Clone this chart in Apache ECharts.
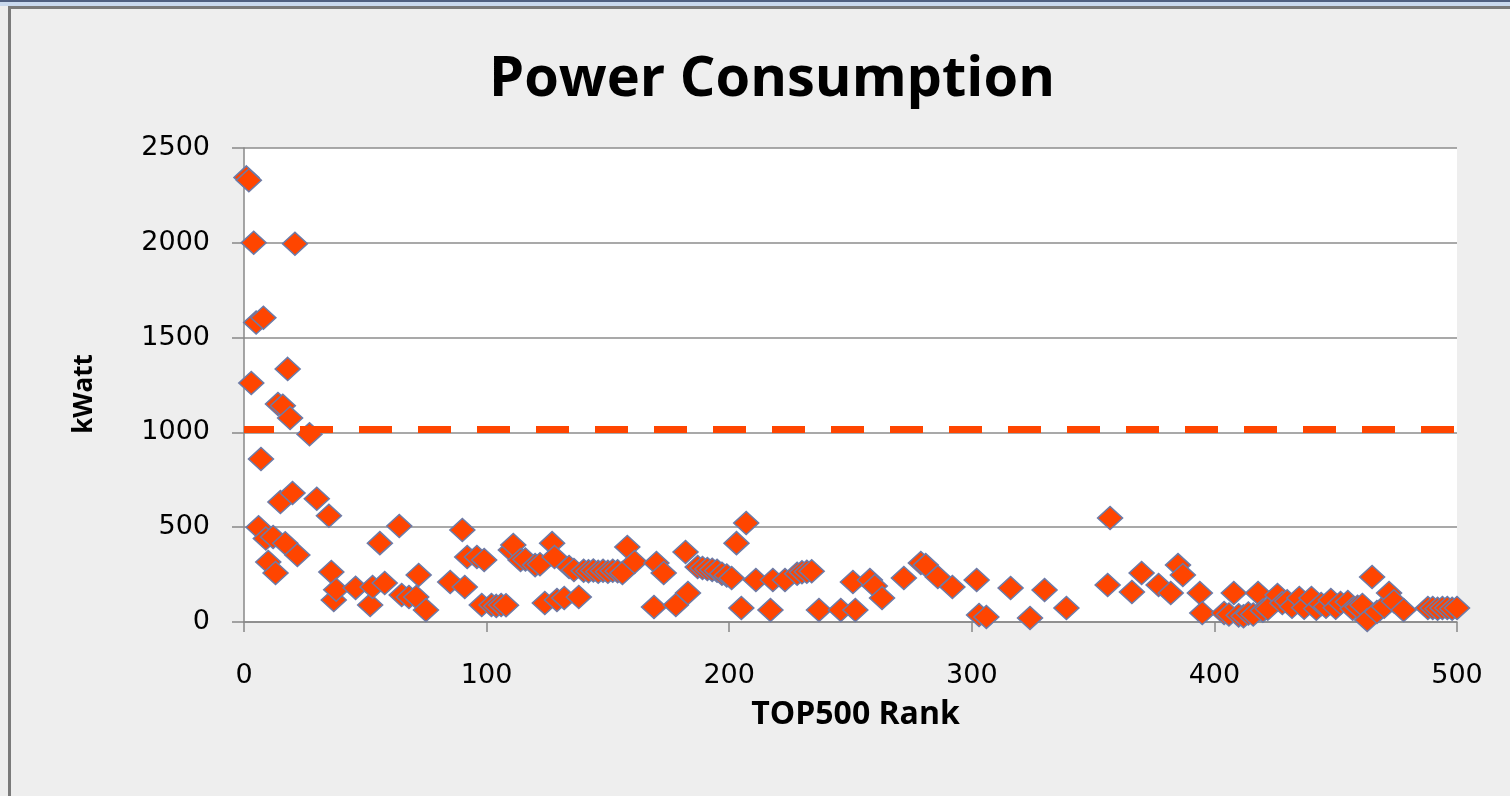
<!DOCTYPE html>
<html>
<head>
<meta charset="utf-8">
<script src="https://cdn.jsdelivr.net/npm/echarts@6/dist/echarts.min.js"></script>
<style>
html, body {
  margin: 0;
  padding: 0;
  background: #eeeeee;
}
#main {
  width: 1510px;
  height: 796px;
}
</style>
</head>
<body>
<div id="main"></div>
<script>
// TOP500 rank and power (kW)
const ranks = [
  1, 2, 3, 4, 5, 6, 7, 8, 9, 10, 12, 13, 14, 15, 16, 17, 18, 19, 20, 21,
  22, 27, 30, 35, 36, 37, 38, 46, 52, 53, 56, 58, 64, 65, 68, 71, 72, 75, 85, 90,
  91, 92, 96, 98, 99, 102, 104, 106, 108, 110, 111, 114, 116, 120, 122, 124, 127, 128, 129, 132,
  134, 136, 138, 140, 142, 144, 146, 148, 150, 152, 154, 156, 158, 161, 169, 170, 173, 178, 182, 183,
  187, 189, 191, 193, 195, 197, 199, 201, 203, 205, 207, 211, 217, 218, 223, 228, 230, 232, 234, 237,
  246, 251, 252, 258, 260, 263, 272, 279, 281, 286, 292, 302, 303, 306, 316, 324, 330, 339, 356, 357,
  366, 370, 377, 382, 385, 387, 394, 395, 404, 406, 408, 410, 412, 414, 416, 418, 420, 422, 426, 428,
  430, 432, 435, 437, 440, 442, 444, 446, 448, 450, 452, 455, 457, 459, 461, 463, 465, 467, 470, 472,
  474, 478, 488, 490, 492, 494, 496, 498, 500
];
const kw = [
  2345, 2330, 1260, 2000, 1580, 500, 860, 1605, 440, 316, 448, 258, 1150, 633, 1140, 415, 1335, 1076, 680, 1995,
  353, 990, 650, 560, 264, 116, 170, 180, 90, 185, 416, 206, 506, 142, 132, 132, 248, 63, 211, 485,
  185, 343, 343, 90, 327, 90, 85, 90, 88, 380, 406, 327, 330, 300, 305, 100, 416, 343, 116, 127,
  290, 274, 132, 270, 268, 272, 265, 270, 265, 270, 268, 258, 396, 316, 79, 311, 258, 90, 369, 153,
  290, 285, 280, 275, 270, 255, 245, 232, 416, 74, 522, 222, 63, 222, 222, 255, 262, 265, 268, 63,
  63, 211, 63, 222, 190, 127, 232, 311, 300, 237, 185, 222, 37, 26, 179, 21, 169, 74, 195, 548,
  158, 258, 195, 153, 300, 248, 153, 47, 47, 40, 153, 35, 30, 45, 40, 153, 60, 70, 142, 100,
  110, 80, 127, 75, 127, 70, 95, 80, 116, 75, 100, 105, 70, 80, 90, 10, 237, 53, 80, 153,
  110, 63, 74, 74, 70, 74, 74, 70, 74
];
// dashed reference level
const powerLevel = 1015;

const points = ranks.map((r, i) => [r, kw[i]]);

const chart = echarts.init(document.getElementById('main'));
const option = {
  backgroundColor: '#eeeeee',
  animation: false,
  title: {
    text: 'Power Consumption',
    left: 484,
    top: 47,
    textStyle: {
      fontFamily: 'Open Sans',
      fontWeight: 'bold',
      fontSize: 56,
      color: '#000'
    }
  },
  graphic: [
    { type: 'rect', shape: { x: 0, y: 0, width: 1510, height: 2 }, style: { fill: '#4f5f80' } },
    { type: 'rect', shape: { x: 0, y: 2, width: 1510, height: 4 }, style: { fill: '#c9d9ee' } },
    { type: 'rect', shape: { x: 8, y: 6, width: 1502, height: 3 }, style: { fill: '#7a7a7a' } },
    { type: 'rect', shape: { x: 8, y: 6, width: 3, height: 790 }, style: { fill: '#7a7a7a' } }
  ],
  grid: {
    left: 244,
    top: 148,
    right: 53,
    bottom: 174,
    show: true,
    backgroundColor: '#ffffff',
    borderWidth: 0
  },
  xAxis: {
    type: 'value',
    min: 0,
    max: 500,
    interval: 100,
    name: 'TOP500 Rank',
    nameLocation: 'middle',
    nameGap: 77,
    nameTextStyle: {
      fontFamily: 'Open Sans',
      fontWeight: 'bold',
      fontSize: 32,
      color: '#000',
      padding: [0, 0, 0, 10]
    },
    axisLine: { show: true, lineStyle: { color: '#888', width: 1.5 } },
    axisTick: { show: true, inside: false, length: 10, lineStyle: { color: '#888', width: 1.5 } },
    axisLabel: {
      margin: 40,
      fontFamily: 'DejaVu Sans',
      fontSize: 27,
      color: '#000',
      formatter: v => String(v)
    },
    splitLine: { show: false }
  },
  yAxis: {
    type: 'value',
    min: 0,
    max: 2500,
    interval: 500,
    name: 'kWatt',
    nameLocation: 'middle',
    nameGap: 146,
    nameTextStyle: {
      fontFamily: 'Open Sans',
      fontWeight: 'bold',
      fontSize: 26,
      color: '#000',
      padding: [0, 18, 0, 0]
    },
    axisLine: { show: true, lineStyle: { color: '#888', width: 1.5 } },
    axisTick: { show: true, inside: false, length: 12, lineStyle: { color: '#888', width: 1.5 } },
    axisLabel: {
      margin: 34,
      fontFamily: 'DejaVu Sans',
      fontSize: 27,
      color: '#000',
      formatter: v => String(v)
    },
    splitLine: { show: true, lineStyle: { color: '#8c8c8c', width: 1.5 } }
  },
  series: [
    {
      name: 'Power',
      type: 'scatter',
      symbol: 'diamond',
      symbolSize: [25, 23],
      clip: false,
      itemStyle: {
        color: '#ff4500',
        borderColor: '#6b7ba8',
        borderWidth: 1.5,
        opacity: 1
      },
      data: points,
      markLine: {
        silent: true,
        symbol: 'none',
        label: { show: false },
        lineStyle: {
          color: '#ff4500',
          width: 7,
          type: [33, 26],
          dashOffset: 3
        },
        data: [[{ coord: [0, powerLevel] }, { coord: [500, powerLevel] }]]
      }
    }
  ]
};
chart.setOption(option);
</script>
</body>
</html>
